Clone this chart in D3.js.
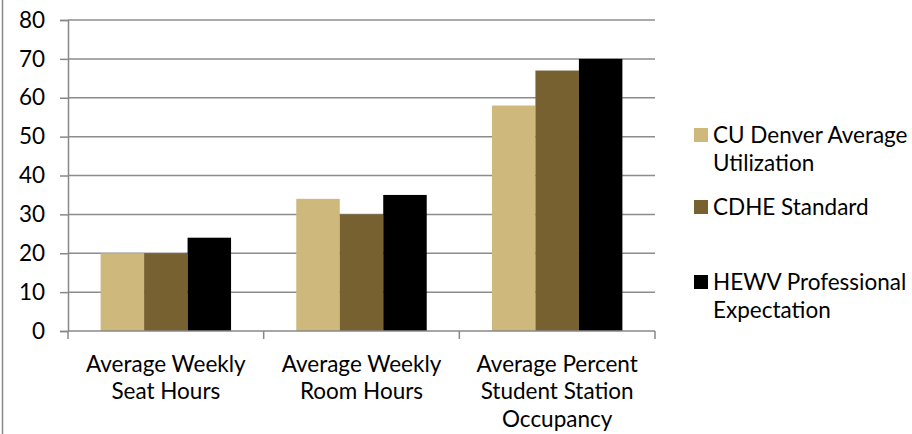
<!DOCTYPE html>
<html>
<head>
<meta charset="utf-8">
<script src="https://cdn.jsdelivr.net/npm/d3@7"></script>
<style>
  body { margin: 0; background: #fff; }
  text { font-family: Lato, "Open Sans", sans-serif; fill: #000; }
</style>
</head>
<body>
<div id="chart"></div>
<script>
// Chart data
var categories = [
  ["Average Weekly", "Seat Hours"],
  ["Average Weekly", "Room Hours"],
  ["Average Percent", "Student Station", "Occupancy"]
];
var seriesNames = [
  ["CU Denver Average", "Utilization"],
  ["CDHE Standard"],
  ["HEWV Professional", "Expectation"]
];
var cuDenver = [20, 34, 58];
var cdhe = [20, 30, 67];
var hewv = [24, 35, 70];
var yTicks = [0, 10, 20, 30, 40, 50, 60, 70, 80];

var colors = ["#CFB87C", "#776130", "#000000"];
var series = [cuDenver, cdhe, hewv];

var width = 912, height = 434;
var fontSize = 22.5;
var plot = {left: 68, right: 655, top: 20, bottom: 331};

var svg = d3.select("#chart").append("svg")
  .attr("width", width)
  .attr("height", height);

// outer chart border (only left edge visible)
svg.append("line")
  .attr("x1", 2.5).attr("x2", 2.5)
  .attr("y1", 0).attr("y2", height)
  .attr("stroke", "#888").attr("stroke-width", 1.5);

var catW = (plot.right - plot.left) / categories.length;
var x0 = d3.scaleBand()
  .domain(d3.range(categories.length))
  .range([plot.left, plot.right]);
// 150% gap width: 3 bars + 1.5 bar widths of gap per category
var barW = catW / 4.5;

var y = d3.scaleLinear().domain([0, 80]).range([plot.bottom, plot.top]);

// gridlines
svg.append("g").selectAll("line")
  .data(yTicks.slice(1))
  .enter().append("line")
  .attr("x1", plot.left).attr("x2", plot.right)
  .attr("y1", function(d) { return y(d); })
  .attr("y2", function(d) { return y(d); })
  .attr("stroke", "#8c8c8c").attr("stroke-width", 1.5);

// bars
series.forEach(function(vals, s) {
  svg.append("g").selectAll("rect")
    .data(vals)
    .enter().append("rect")
    .attr("x", function(d, i) { return x0(i) + barW * 0.75 + s * barW; })
    .attr("y", function(d) { return y(d); })
    .attr("width", barW)
    .attr("height", function(d) { return y(0) - y(d); })
    .attr("fill", colors[s]);
});

// y axis
var yAxis = d3.axisLeft(y).tickValues(yTicks).tickSize(8).tickPadding(15);
var gy = svg.append("g")
  .attr("transform", "translate(" + plot.left + ",0)")
  .call(yAxis);
gy.select(".domain").attr("stroke", "#888").attr("stroke-width", 1.5);
gy.selectAll(".tick line").attr("stroke", "#888").attr("stroke-width", 1.5);
gy.selectAll(".tick text")
  .style("font-family", "Lato, 'Open Sans', sans-serif")
  .style("font-size", fontSize + "px")
  .attr("fill", "#000");

// x axis
svg.append("line")
  .attr("x1", plot.left).attr("x2", plot.right)
  .attr("y1", plot.bottom).attr("y2", plot.bottom)
  .attr("stroke", "#888").attr("stroke-width", 1.5);
svg.append("g").selectAll("line")
  .data(d3.range(categories.length + 1))
  .enter().append("line")
  .attr("x1", function(d) { return plot.left + d * catW; })
  .attr("x2", function(d) { return plot.left + d * catW; })
  .attr("y1", plot.bottom).attr("y2", plot.bottom + 8)
  .attr("stroke", "#888").attr("stroke-width", 1.5);

// category labels
var labels = svg.append("g").selectAll("text")
  .data(categories)
  .enter().append("text")
  .attr("text-anchor", "middle")
  .style("font-size", fontSize + "px");
labels.each(function(lines, i) {
  var t = d3.select(this);
  lines.forEach(function(line, j) {
    t.append("tspan")
      .attr("x", x0(i) + x0.bandwidth() / 2)
      .attr("y", 364 + j * 27.5)
      .attr("dy", "0.35em")
      .text(line);
  });
});

// legend
var legendY = [[135, 163], [207], [282, 310]];
var legend = svg.append("g");
seriesNames.forEach(function(lines, s) {
  legend.append("rect")
    .attr("x", 694).attr("y", legendY[s][0] - 7)
    .attr("width", 14).attr("height", 14)
    .attr("fill", colors[s]);
  var t = legend.append("text").style("font-size", fontSize + "px");
  lines.forEach(function(line, j) {
    t.append("tspan")
      .attr("x", 713)
      .attr("y", legendY[s][j])
      .attr("dy", "0.35em")
      .text(line);
  });
});
</script>
</body>
</html>
